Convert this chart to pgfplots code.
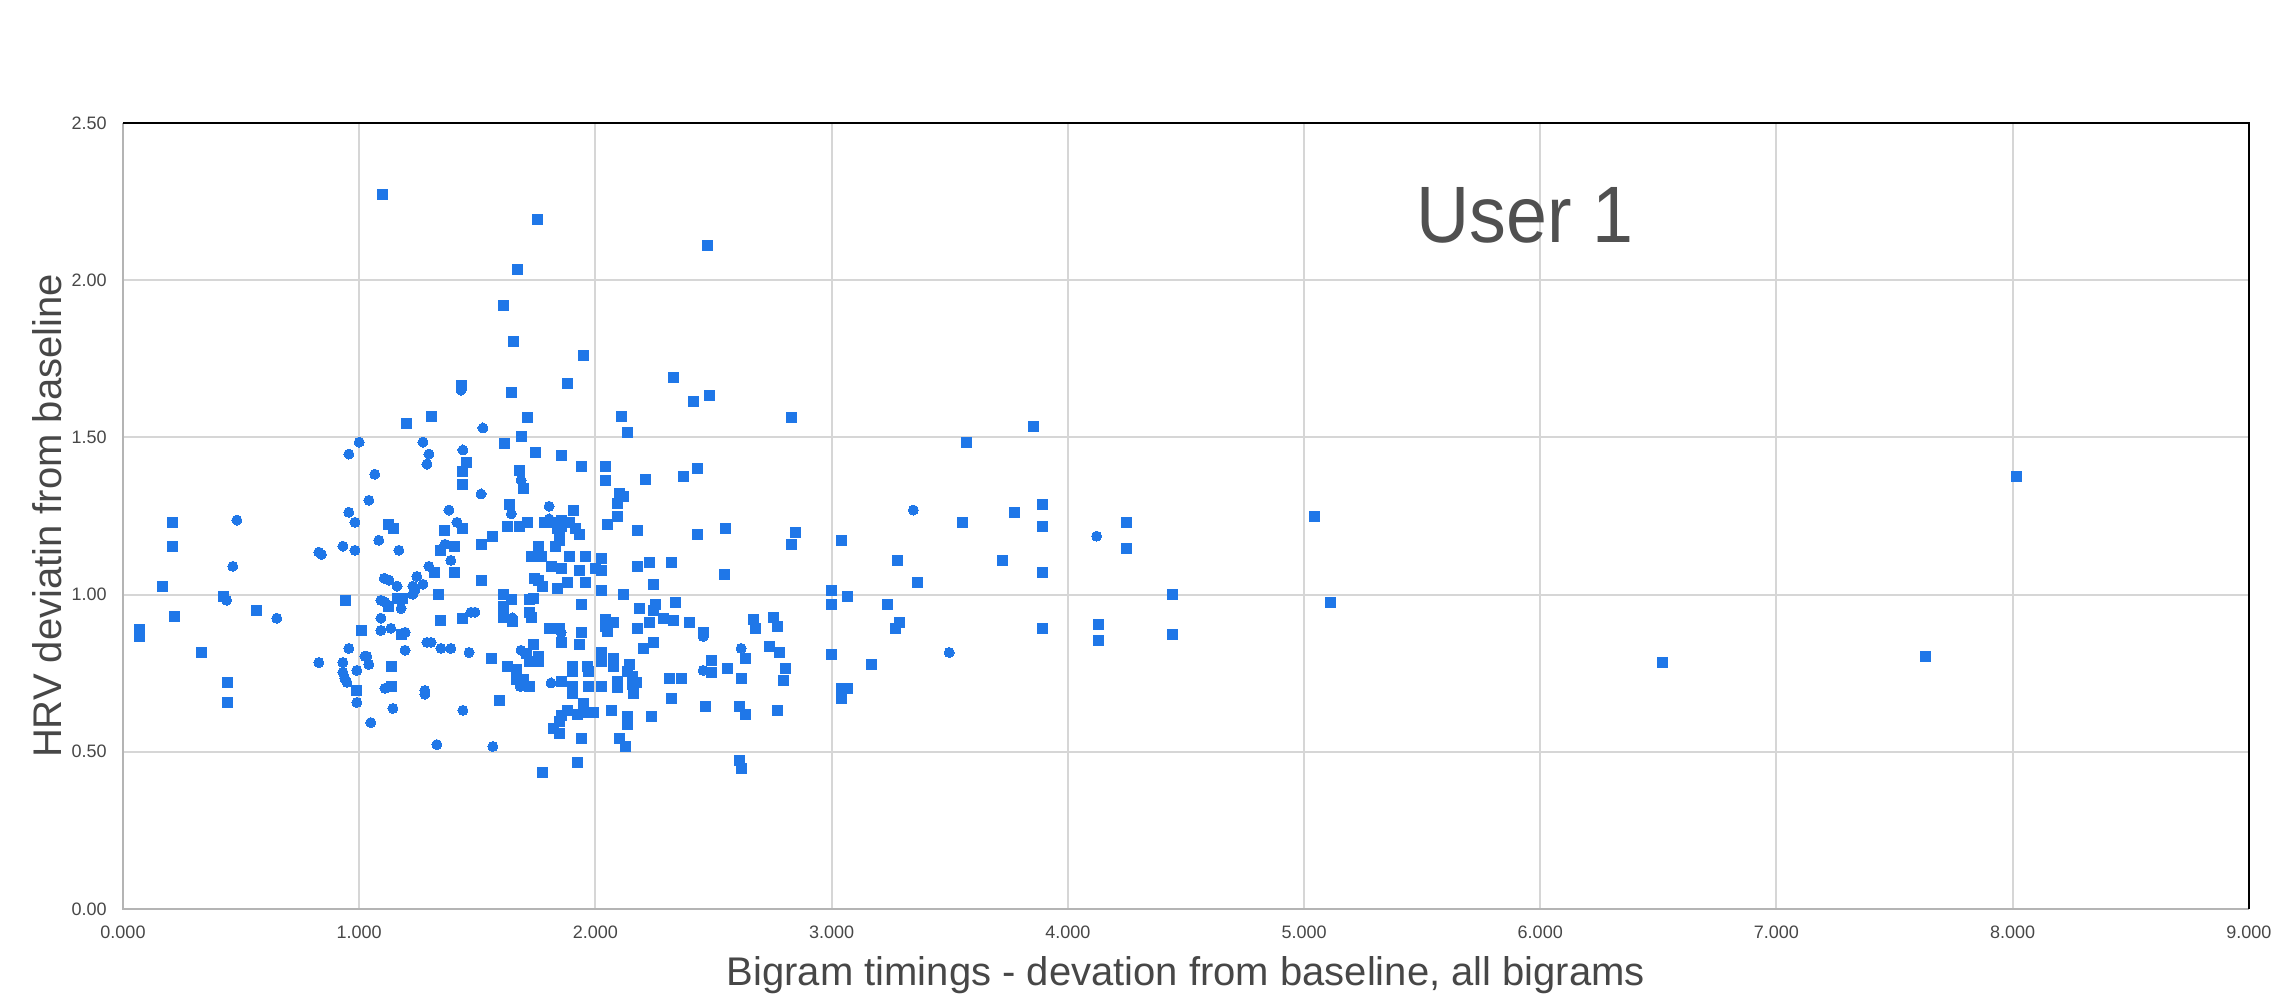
\documentclass[border=0pt]{standalone}
\usepackage{fontspec}
\setmainfont{Liberation Sans}
\usepackage{pgfplots}
\pgfplotsset{compat=1.18}
\usepackage{pgfplotstable}

\definecolor{ptblue}{HTML}{1F77E8}
\definecolor{gridgray}{HTML}{D6D6D6}
\definecolor{axgray}{HTML}{B4B4B4}
\definecolor{txtgray}{HTML}{474747}
\definecolor{ttlgray}{HTML}{505050}

% square markers
\pgfplotstableread{
x y
0.068 0.890
0.068 0.868
0.210 1.230
0.210 1.154
0.169 1.027
0.220 0.931
0.331 0.816
0.424 0.995
0.441 0.721
0.441 0.657
0.566 0.950
0.941 0.982
1.008 0.886
0.990 0.695
1.136 0.772
1.136 0.708
1.202 1.544
1.304 1.568
1.126 1.224
1.144 1.211
1.431 1.665
1.456 1.421
1.439 1.390
1.439 1.351
1.363 1.205
1.439 1.211
1.566 1.186
1.405 1.154
1.516 1.160
1.346 1.141
1.320 1.071
1.405 1.071
1.516 1.046
1.336 1.001
1.346 0.918
1.439 0.925
1.177 0.874
1.126 0.963
1.160 0.988
1.182 0.988
1.558 0.797
1.592 0.663
1.097 2.274
1.754 2.193
1.670 2.033
2.475 2.109
1.609 1.918
1.653 1.804
1.949 1.759
1.881 1.670
1.644 1.644
1.712 1.562
1.686 1.504
1.613 1.479
1.746 1.453
1.856 1.441
1.941 1.409
1.678 1.396
1.695 1.339
2.042 1.409
2.042 1.364
2.211 1.366
2.100 1.320
2.117 1.313
2.372 1.377
2.432 1.402
2.331 1.689
2.415 1.613
2.483 1.632
2.110 1.568
2.136 1.517
2.831 1.562
1.636 1.287
1.907 1.268
2.092 1.290
2.092 1.249
1.627 1.218
1.678 1.218
1.712 1.230
1.786 1.230
1.821 1.230
1.855 1.237
1.855 1.218
1.838 1.211
1.890 1.230
1.915 1.211
1.932 1.192
1.846 1.192
1.846 1.173
1.829 1.154
2.050 1.224
2.177 1.205
2.431 1.192
1.761 1.154
1.728 1.122
1.770 1.122
1.890 1.122
1.958 1.122
2.024 1.116
1.812 1.090
1.855 1.084
1.932 1.077
1.999 1.084
2.024 1.077
2.177 1.090
2.228 1.103
2.321 1.103
1.744 1.052
1.761 1.046
1.778 1.027
1.838 1.020
1.880 1.039
1.958 1.039
2.024 1.014
2.117 1.001
2.244 1.033
1.609 1.001
1.643 0.984
1.609 0.963
1.609 0.926
1.648 0.915
1.719 0.984
1.736 0.989
1.719 0.942
1.728 0.926
1.941 0.969
1.804 0.893
1.846 0.893
1.941 0.880
1.855 0.848
1.932 0.842
1.736 0.842
1.710 0.812
1.761 0.804
1.719 0.788
1.761 0.788
1.626 0.772
1.668 0.761
1.668 0.729
1.697 0.729
1.855 0.724
1.905 0.772
1.905 0.756
1.965 0.772
1.972 0.756
2.042 0.920
2.042 0.899
2.078 0.912
2.050 0.883
2.177 0.893
2.186 0.956
2.228 0.912
2.244 0.950
2.253 0.969
2.287 0.925
2.329 0.918
2.338 0.976
2.397 0.912
2.456 0.880
2.244 0.848
2.202 0.829
2.024 0.816
2.024 0.788
2.075 0.798
2.075 0.772
2.143 0.777
2.134 0.756
2.155 0.740
2.176 0.719
2.092 0.724
2.312 0.734
2.363 0.734
2.490 0.791
2.490 0.753
1.719 0.708
1.905 0.708
1.905 0.687
1.972 0.708
2.024 0.708
2.092 0.703
2.155 0.713
2.162 0.687
1.948 0.655
1.880 0.632
1.855 0.614
1.846 0.596
1.821 0.575
1.846 0.559
1.925 0.619
1.968 0.625
1.993 0.625
2.067 0.632
2.134 0.613
2.134 0.586
2.236 0.613
2.321 0.670
2.465 0.644
1.939 0.542
2.100 0.542
2.126 0.517
1.925 0.466
1.778 0.434
2.550 1.210
2.848 1.198
2.829 1.160
3.041 1.173
3.278 1.109
2.545 1.064
3.363 1.039
2.999 1.014
2.999 0.969
3.066 0.995
3.236 0.969
2.668 0.920
2.677 0.893
2.753 0.926
2.770 0.899
3.287 0.912
3.270 0.893
2.634 0.797
2.736 0.835
2.778 0.816
2.558 0.765
2.617 0.734
2.804 0.765
2.795 0.727
2.999 0.810
3.168 0.778
3.041 0.702
3.066 0.702
3.041 0.670
2.609 0.644
2.634 0.619
2.770 0.632
2.609 0.472
2.617 0.447
3.853 1.536
3.573 1.485
3.894 1.288
3.775 1.262
3.555 1.230
3.894 1.218
4.249 1.230
4.249 1.148
3.724 1.109
3.894 1.071
4.444 1.001
5.045 1.249
5.113 0.976
3.894 0.893
4.131 0.906
4.131 0.855
4.444 0.874
8.016 1.376
6.519 0.785
7.629 0.803
}\squares

% round markers
\pgfplotstableread{
x y
0.482 1.237
0.465 1.090
0.439 0.982
0.651 0.925
0.829 1.135
0.840 1.128
0.829 0.784
0.956 1.447
1.000 1.485
1.066 1.383
1.041 1.300
0.956 1.262
0.982 1.230
0.931 1.154
0.982 1.141
1.083 1.173
1.168 1.141
1.106 1.052
1.126 1.046
1.160 1.027
1.244 1.058
1.227 1.027
1.236 1.014
1.227 1.001
1.270 1.033
1.295 1.090
1.388 1.109
1.363 1.160
1.380 1.269
1.414 1.230
1.270 1.485
1.295 1.447
1.287 1.415
1.439 1.460
1.524 1.530
1.516 1.320
1.431 1.650
1.092 0.982
1.109 0.976
1.177 0.956
1.092 0.925
1.092 0.886
1.134 0.893
1.195 0.880
0.956 0.829
0.931 0.784
0.931 0.753
0.939 0.734
0.948 0.721
0.990 0.759
1.024 0.804
1.032 0.804
1.041 0.778
0.990 0.657
1.049 0.593
1.143 0.638
1.109 0.702
1.278 0.695
1.278 0.683
1.194 0.823
1.287 0.848
1.304 0.848
1.346 0.829
1.388 0.829
1.465 0.816
1.473 0.944
1.490 0.944
1.439 0.632
1.329 0.523
1.566 0.517
1.685 1.364
1.644 1.257
1.804 1.281
1.804 1.241
1.648 0.926
1.855 0.880
1.685 0.823
1.812 0.719
2.456 0.867
2.456 0.759
1.682 0.708
3.346 1.269
2.617 0.829
3.498 0.816
4.122 1.186
}\circles

\begin{document}
\begin{tikzpicture}
\useasboundingbox (-61.5pt,-48.5pt) rectangle (1083.5pt,454.5pt);
\begin{axis}[
  at={(0,0)}, anchor=south west,
  scale only axis,
  width=1063pt, height=393pt,
  xmin=0, xmax=9, ymin=0, ymax=2.5,
  xtick={0,1,...,9},
  ytick={0,0.5,1,1.5,2,2.5},
  axis line style={draw=none},
  major tick length=0pt,
  tick style={draw=none},
  grid=major,
  major grid style={draw=gridgray, line width=1pt},
  /pgf/number format/assume math mode=true,
  xticklabel={\pgfmathprintnumber[fixed,fixed zerofill,precision=3]{\tick}},
  yticklabel={\pgfmathprintnumber[fixed,fixed zerofill,precision=2]{\tick}},
  xticklabel style={font=\fontsize{9}{9}\selectfont, text=txtgray, inner sep=0pt, anchor=north, yshift=-8.5pt},
  yticklabel style={font=\fontsize{9}{9}\selectfont, text=txtgray, inner sep=0pt, anchor=east, xshift=-8pt},
  xlabel={Bigram timings - devation from baseline, all bigrams},
  ylabel={HRV deviatin from baseline},
  every axis x label/.style={at={(axis description cs:0.5,-0.0967)}, anchor=base, inner sep=0pt, font=\fontsize{20}{20}\selectfont, text=txtgray},
  every axis y label/.style={at={(axis description cs:-0.0287,0.5)}, rotate=90, anchor=base, inner sep=0pt, font=\fontsize{20}{20}\selectfont, text=txtgray},
  clip=false,
]
\addplot[only marks, mark=square*, mark size=2.5pt, mark options={fill=ptblue, draw=ptblue, line width=0pt}] table[x=x,y=y] {\squares};
\addplot[only marks, mark=*, mark size=2.5pt, mark options={fill=ptblue, draw=ptblue, line width=0pt}] table[x=x,y=y] {\circles};
\draw[axgray, line width=1pt] (rel axis cs:0,1) -- (rel axis cs:0,0) -- (rel axis cs:1,0);
\draw[black, line width=1pt] (rel axis cs:0,1) -- (rel axis cs:1,1) -- (rel axis cs:1,0);
\node[anchor=base west, inner sep=0pt, xscale=0.92, font=\fontsize{40}{40}\selectfont, text=ttlgray] at (axis cs:5.474,2.121) {User 1};
\end{axis}
\end{tikzpicture}
\end{document}
